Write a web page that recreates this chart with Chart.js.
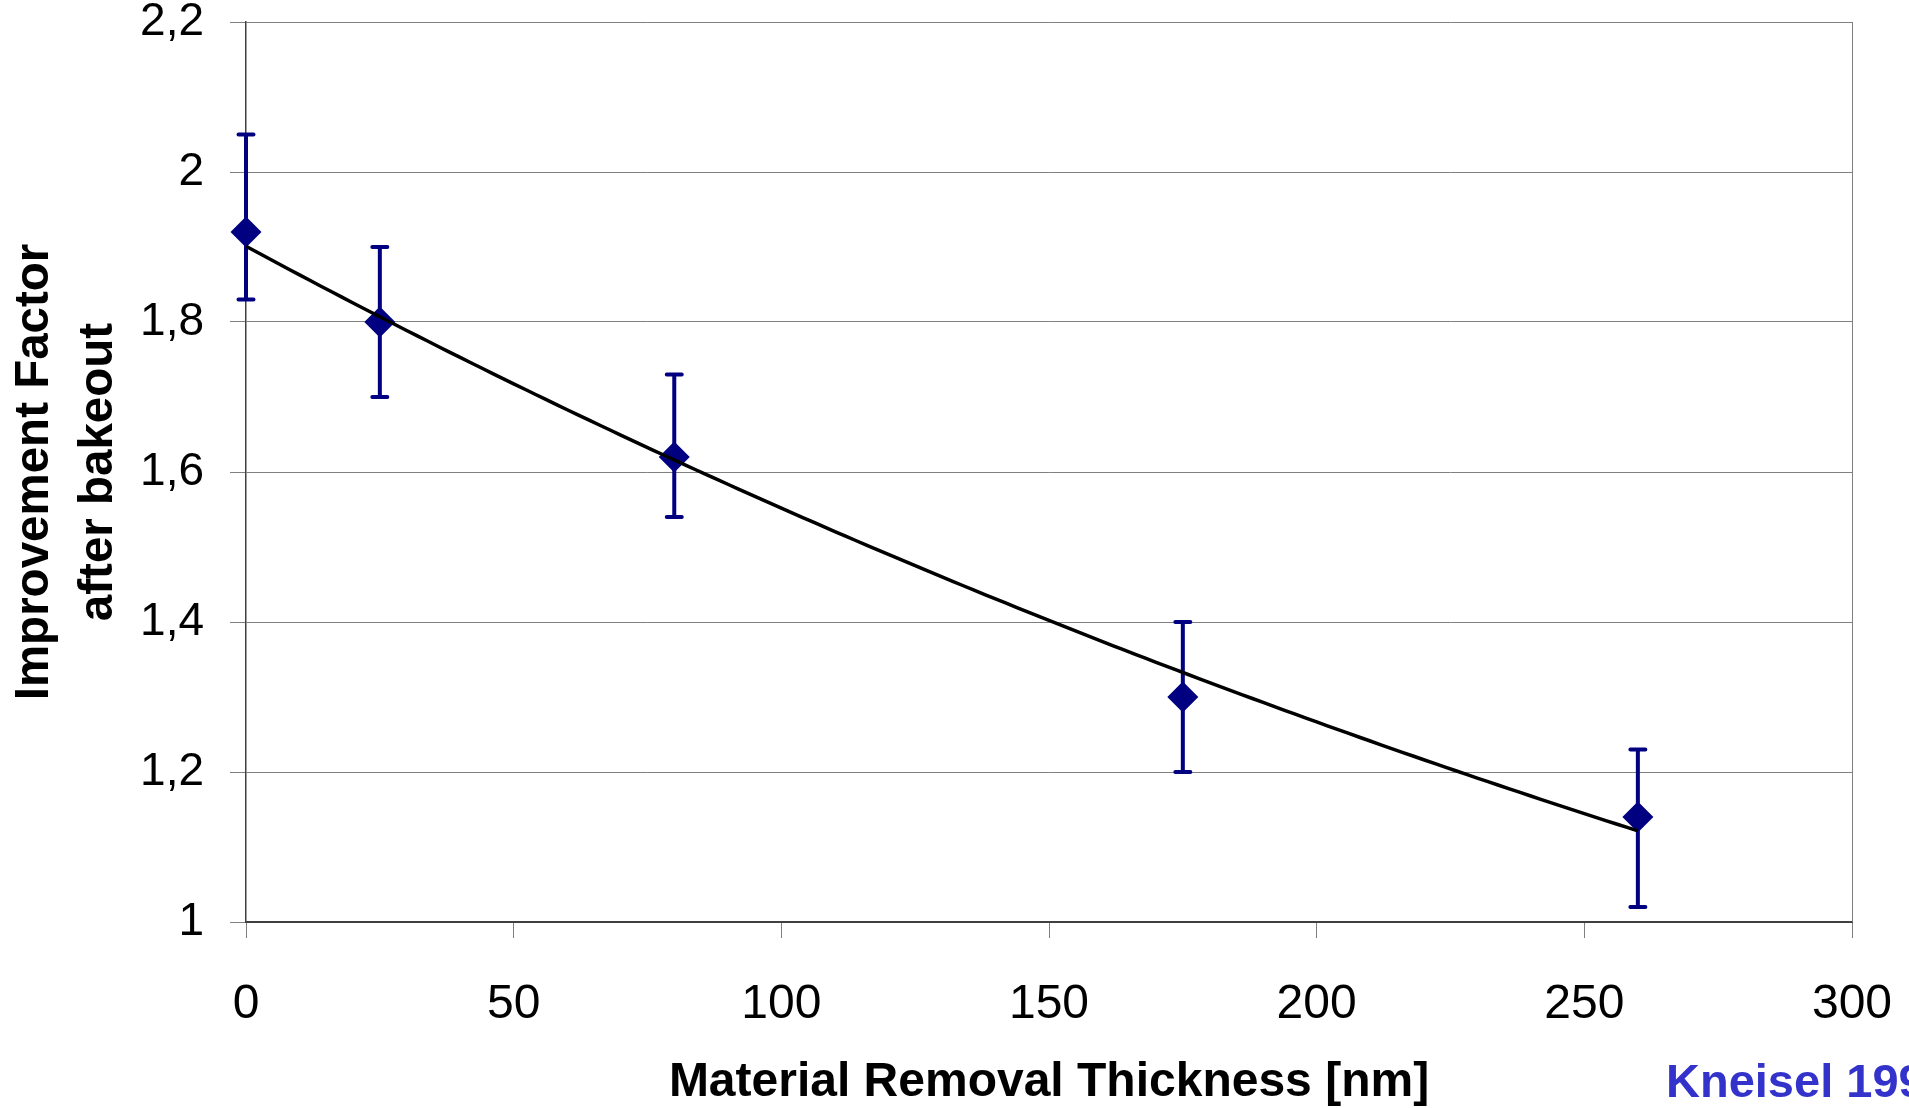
<!DOCTYPE html>
<html>
<head>
<meta charset="utf-8">
<script src="https://cdn.jsdelivr.net/npm/chart.js@4/dist/chart.umd.min.js"></script>
<style>
  html, body { margin: 0; padding: 0; background: #fff; overflow: hidden; }
  canvas { display: block; }
</style>
</head>
<body>
<canvas id="c" width="1909" height="1108"></canvas>
<script>
// Measured improvement factor after bakeout vs. removed material thickness
const thickness   = [0, 25, 80, 175, 260];          // nm
const improvement = [1.92, 1.80, 1.62, 1.30, 1.14];
const errLow      = [1.83, 1.70, 1.54, 1.20, 1.02];
const errHigh     = [2.05, 1.90, 1.73, 1.40, 1.23];

const yTickLabels = ['1', '1,2', '1,4', '1,6', '1,8', '2', '2,2'];
const xTickLabels = ['0', '50', '100', '150', '200', '250', '300'];
const sourceNote  = 'Kneisel 1999';

// Exponential least-squares trend y = A * exp(B * x) through the measurements
function expFit(xs, ys) {
  const n = xs.length;
  const ly = ys.map(Math.log);
  const mx = xs.reduce((a, b) => a + b, 0) / n;
  const my = ly.reduce((a, b) => a + b, 0) / n;
  let sxx = 0, sxy = 0;
  for (let i = 0; i < n; i++) {
    sxx += (xs[i] - mx) * (xs[i] - mx);
    sxy += (xs[i] - mx) * (ly[i] - my);
  }
  const B = sxy / sxx;
  const A = Math.exp(my - B * mx);
  return x => A * Math.exp(B * x);
}
const trend = expFit(thickness, improvement);
const trendPoints = [];
for (let x = thickness[0]; x <= thickness[thickness.length - 1]; x += 2) {
  trendPoints.push({ x: x, y: trend(x) });
}

const FONT = 'Liberation Sans, Arial, Helvetica, sans-serif';
const NAVY = '#000080';

// Vertical error bars with caps, drawn beneath the markers
const errorBars = {
  id: 'errorBars',
  beforeDatasetsDraw(chart) {
    const { ctx, scales: { x, y } } = chart;
    ctx.save();
    ctx.strokeStyle = NAVY;
    ctx.lineWidth = 4;
    ctx.lineCap = 'round';
    const cap = 7.5;
    for (let i = 0; i < thickness.length; i++) {
      const px = x.getPixelForValue(thickness[i]);
      const top = y.getPixelForValue(errHigh[i]);
      const bot = y.getPixelForValue(errLow[i]);
      ctx.beginPath();
      ctx.moveTo(px, top); ctx.lineTo(px, bot);
      ctx.moveTo(px - cap, top); ctx.lineTo(px + cap, top);
      ctx.moveTo(px - cap, bot); ctx.lineTo(px + cap, bot);
      ctx.stroke();
    }
    ctx.restore();
  }
};

// Right-hand frame line and source note
const frame = {
  id: 'frame',
  beforeDatasetsDraw(chart) {
    const { ctx, chartArea: a } = chart;
    ctx.save();
    ctx.strokeStyle = '#808080';
    ctx.lineWidth = 1;
    ctx.beginPath();
    ctx.moveTo(Math.round(a.right) + 0.5, a.top);
    ctx.lineTo(Math.round(a.right) + 0.5, a.bottom);
    ctx.stroke();
    ctx.restore();
  },
  afterDraw(chart) {
    const { ctx } = chart;
    ctx.save();
    ctx.fillStyle = '#3333CC';
    ctx.font = 'bold 47px ' + FONT;
    ctx.textAlign = 'left';
    ctx.textBaseline = 'alphabetic';
    ctx.fillText(sourceNote, 1666, 1097);
    ctx.restore();
  }
};

new Chart(document.getElementById('c'), {
  type: 'scatter',
  data: {
    datasets: [
      {
        type: 'line',
        label: 'trend',
        data: trendPoints,
        borderColor: '#000000',
        borderWidth: 3.5,
        pointRadius: 0,
        tension: 0,
        fill: false,
        order: 0
      },
      {
        label: 'Improvement Factor',
        data: thickness.map((t, i) => ({ x: t, y: improvement[i] })),
        pointStyle: 'rectRot',
        pointRadius: 15.5,
        pointBackgroundColor: NAVY,
        pointBorderWidth: 0,
        clip: false,
        order: 1
      }
    ]
  },
  options: {
    responsive: false,
    animation: false,
    devicePixelRatio: 1,
    layout: { padding: { left: 0, right: 57, top: 22, bottom: 0 } },
    plugins: {
      legend: { display: false },
      tooltip: { enabled: false }
    },
    scales: {
      x: {
        type: 'linear',
        min: 0, max: 300,
        afterFit(s) { s.height = 186; s.paddingLeft = 0; s.paddingRight = 0; },
        ticks: {
          stepSize: 50,
          padding: 38,
          color: '#000',
          font: { family: FONT, size: 48 },
          maxRotation: 0,
          callback: (v) => xTickLabels[Math.round(v / 50)]
        },
        grid: {
          drawOnChartArea: false,
          drawTicks: true,
          tickLength: 16,
          color: '#808080',
          lineWidth: 1
        },
        border: { display: true, color: '#404040', width: 2 },
        title: {
          display: true,
          text: 'Material Removal Thickness [nm]',
          color: '#000',
          font: { family: FONT, size: 48, weight: 'bold', lineHeight: 1.05 },
          padding: { top: 0, bottom: 0 }
        }
      },
      y: {
        type: 'linear',
        min: 1, max: 2.2,
        afterFit(s) { s.width = 246; s.paddingTop = 0; s.paddingBottom = 0; },
        ticks: {
          stepSize: 0.2,
          padding: 26,
          color: '#000',
          font: { family: FONT, size: 46 },
          callback: (v) => yTickLabels[Math.round((v - 1) / 0.2)]
        },
        grid: {
          drawOnChartArea: true,
          drawTicks: true,
          tickLength: 16,
          color: '#808080',
          lineWidth: 1
        },
        border: { display: true, color: '#404040', width: 1.5 },
        title: {
          display: true,
          text: ['Improvement Factor', 'after bakeout'],
          color: '#000',
          font: { family: FONT, size: 47.5, weight: 'bold', lineHeight: 1.35 },
          padding: { top: 3, bottom: 0 }
        }
      }
    }
  },
  plugins: [errorBars, frame]
});
</script>
</body>
</html>
